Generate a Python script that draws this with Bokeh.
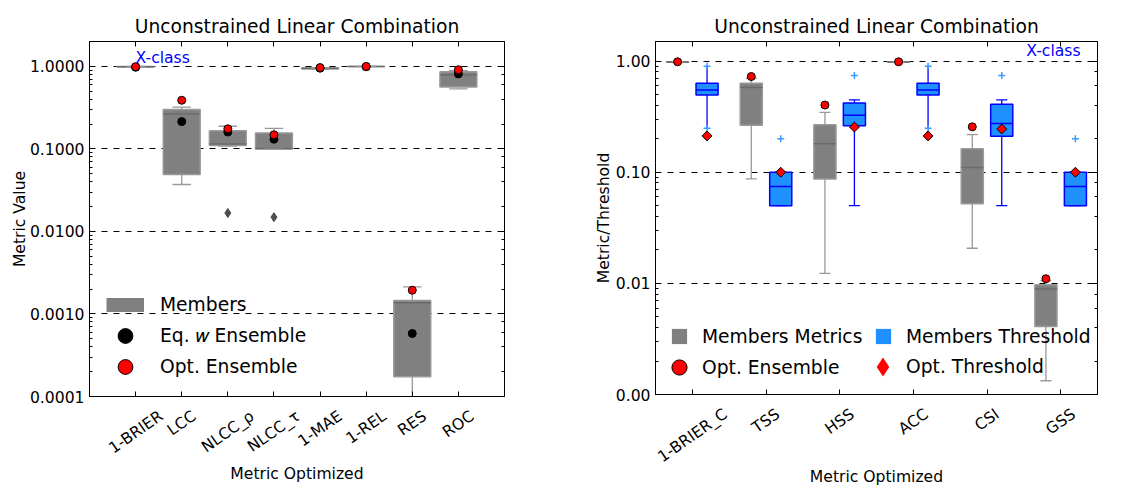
import math
from bokeh.plotting import figure
from bokeh.models import (Range1d, FixedTicker, LogAxis, LinearAxis, Label,
                          Legend, LegendItem, PrintfTickFormatter, CustomJSTickFormatter)
from bokeh.layouts import row
from bokeh.embed import file_html
from bokeh.resources import INLINE

FONT = "DejaVu Sans"
FS_PX = 15.6
FS = "15.6px"
FS_BIG = "18.7px"

# ---------------- data: left panel (Metric Value) ----------------
left_categories = ["1-BRIER", "LCC", "NLCC_ρ", "NLCC_τ", "1-MAE", "1-REL", "RES", "ROC"]
left_whisker_low = [0.975, 0.037, 0.108, 0.099, 0.92, 0.99, 0.00005, 0.533]
left_q1 = [0.985, 0.049, 0.110, 0.100, 0.93, 0.993, 0.000173, 0.563]
left_median = [0.990, 0.265, 0.115, 0.101, 0.945, 0.996, 0.00137, 0.79]
left_q3 = [0.995, 0.300, 0.166, 0.156, 0.955, 0.998, 0.00146, 0.863]
left_whisker_high = [0.998, 0.320, 0.188, 0.177, 0.96, 0.999, 0.00213, 0.887]
left_fliers = [[], [], [0.0167], [0.0149], [], [], [], []]
left_eq_w_ensemble = [0.975, 0.214, 0.160, 0.131, 0.95, 0.99, 0.00058, 0.81]
left_opt_ensemble = [0.99, 0.388, 0.175, 0.148, 0.965, 0.997, 0.00194, 0.91]

# ---------------- data: right panel (Metric/Threshold) ----------------
right_categories = ["1-BRIER_C", "TSS", "HSS", "ACC", "CSI", "GSS"]
metric_whisker_low = [0.970, 0.087, 0.0123, 0.970, 0.0207, 0.00133]
metric_q1 = [0.975, 0.264, 0.087, 0.975, 0.052, 0.0041]
metric_median = [0.980, 0.577, 0.180, 0.980, 0.110, 0.0089]
metric_q3 = [0.985, 0.632, 0.267, 0.985, 0.163, 0.0097]
metric_whisker_high = [0.990, 0.700, 0.345, 0.990, 0.218, 0.0106]
metric_opt_ensemble = [0.985, 0.726, 0.402, 0.985, 0.256, 0.011]

threshold_whisker_low = [0.248, 0.05, 0.05, 0.248, 0.05, 0.05]
threshold_q1 = [0.495, 0.05, 0.262, 0.495, 0.211, 0.05]
threshold_median = [0.55, 0.0745, 0.325, 0.55, 0.275, 0.0745]
threshold_q3 = [0.632, 0.10, 0.42, 0.632, 0.408, 0.10]
threshold_whisker_high = [0.90, 0.10, 0.447, 0.90, 0.447, 0.10]
threshold_fliers = [[0.90, 0.248], [0.2], [0.74], [0.90, 0.248], [0.74], [0.2]]
opt_threshold = [0.212, 0.10, 0.255, 0.212, 0.245, 0.10]

# approximate DejaVu Sans advance widths (em), used to centre rotated labels on ticks
CHAR_W = {'0': .636, '1': .636, '2': .636, '3': .636, '4': .636, '5': .636,
          '6': .636, '7': .636, '8': .636, '9': .636, '-': .361, '_': .5,
          'A': .684, 'B': .686, 'C': .698, 'E': .632, 'G': .775, 'H': .752,
          'I': .295, 'L': .557, 'M': .863, 'N': .748, 'O': .787, 'R': .695,
          'S': .635, 'T': .611, 'ρ': .635, 'τ': .56}
ANGLE = math.radians(35)


def text_w(s, px):
    return sum(CHAR_W.get(c, .62) for c in s) * px


def hide_labels(ax):
    ax.major_label_text_font_size = "1px"
    ax.major_label_text_color = None
    ax.major_label_standoff = 0


def style_fig(p, xs, labels, px_per_unit, ytick_fmt, y_label, y_label_standoff,
              x_label_standoff, title_standoff):
    p.title.text = "Unconstrained Linear Combination"
    p.title.align = "center"
    p.title.text_font = FONT
    p.title.text_font_size = FS_BIG
    p.title.text_font_style = "normal"
    p.title.text_color = "black"
    p.title.standoff = title_standoff
    p.outline_line_color = "black"
    p.outline_line_width = 1
    p.xgrid.visible = False
    p.ygrid.grid_line_color = "black"
    p.ygrid.grid_line_dash = "6 6"
    p.ygrid.grid_line_width = 1
    p.background_fill_color = "white"
    p.border_fill_color = "white"

    # bottom axis: inward tick marks only
    xa = p.xaxis[0]
    xa.ticker = FixedTicker(ticks=xs)
    hide_labels(xa)
    xa.major_tick_in = 5
    xa.major_tick_out = 0
    xa.minor_tick_line_color = None
    xa.axis_line_color = "black"

    # second bottom axis: rotated category labels centred on the ticks
    shifted = [x + (text_w(lab, FS_PX) / 2 * math.cos(ANGLE)) / px_per_unit
               for x, lab in zip(xs, labels)]
    lab_axis = LinearAxis(ticker=FixedTicker(ticks=shifted),
                          formatter=CustomJSTickFormatter(args=dict(labels=labels),
                                                          code="return labels[index]"),
                          major_label_orientation=ANGLE, major_label_standoff=12,
                          major_label_text_font=FONT, major_label_text_font_size=FS,
                          major_label_text_color="black",
                          major_tick_line_color=None, minor_tick_line_color=None,
                          axis_line_color=None,
                          axis_label="Metric Optimized", axis_label_text_font=FONT,
                          axis_label_text_font_size=FS, axis_label_text_font_style="normal",
                          axis_label_text_color="black",
                          axis_label_standoff=x_label_standoff)
    p.add_layout(lab_axis, "below")

    ya = p.yaxis[0]
    ya.formatter = PrintfTickFormatter(format=ytick_fmt)
    ya.major_label_text_font = FONT
    ya.major_label_text_font_size = FS
    ya.major_label_text_color = "black"
    ya.major_tick_in = 5
    ya.major_tick_out = 0
    ya.minor_tick_in = 3
    ya.minor_tick_out = 0
    ya.axis_line_color = "black"
    ya.axis_label = y_label
    ya.axis_label_text_font = FONT
    ya.axis_label_text_font_size = FS
    ya.axis_label_text_font_style = "normal"
    ya.axis_label_text_color = "black"
    ya.axis_label_standoff = y_label_standoff

    top = LinearAxis(ticker=FixedTicker(ticks=xs), major_tick_in=5, major_tick_out=0,
                     minor_tick_line_color=None, axis_line_color="black")
    hide_labels(top)
    p.add_layout(top, "above")
    right = LogAxis(major_tick_in=5, major_tick_out=0, minor_tick_in=3, minor_tick_out=0,
                    axis_line_color="black")
    hide_labels(right)
    p.add_layout(right, "right")


def draw_boxes(p, xs, wl, q1, med, q3, wh, fliers, width, fill, edge, med_color,
               whisk_color, cap_half, flier_marker, flier_color, flier_size,
               edge_width=1.5, skip_caps_at_fliers=False):
    p.vbar(x=xs, width=width, bottom=q1, top=q3, fill_color=fill,
           line_color=edge, line_width=edge_width)
    p.segment(x0=[x - width / 2 for x in xs], x1=[x + width / 2 for x in xs],
              y0=med, y1=med, line_color=med_color, line_width=1.5)
    p.segment(x0=xs, x1=xs, y0=q3, y1=wh, line_color=whisk_color, line_width=1.3)
    p.segment(x0=xs, x1=xs, y0=q1, y1=wl, line_color=whisk_color, line_width=1.3)
    cx0, cx1, cy = [], [], []
    for x, lo, hi, fl in zip(xs, wl, wh, fliers):
        for v in (lo, hi):
            if skip_caps_at_fliers and v in fl:
                continue
            cx0.append(x - cap_half)
            cx1.append(x + cap_half)
            cy.append(v)
    p.segment(x0=cx0, x1=cx1, y0=cy, y1=cy, line_color=whisk_color, line_width=1.3)
    fx, fy = [], []
    for x, fl in zip(xs, fliers):
        for v in fl:
            fx.append(x)
            fy.append(v)
    if flier_marker == "cross":
        p.scatter(fx, fy, marker="cross", size=flier_size, line_color=flier_color,
                  line_width=1.5)
    else:
        p.scatter(fx, fy, marker=flier_marker, size=flier_size, fill_color=flier_color,
                  line_color=flier_color)


def legend_at(p, items, loc, glyph_w, glyph_h, standoff, label_w=20, spacing=0):
    leg = Legend(items=items, location=loc, orientation="horizontal",
                 glyph_width=glyph_w, glyph_height=glyph_h, spacing=spacing,
                 label_standoff=standoff, label_width=label_w, padding=0, margin=0,
                 label_text_font=FONT, label_text_font_size=FS_BIG,
                 label_text_color="black",
                 background_fill_alpha=0, border_line_alpha=0)
    p.add_layout(leg)


GRAY = "#808080"
GRAY_EDGE = "#999999"
GRAY_MED = "#6b6b6b"
BLUE_FILL = "#1e90ff"
BLUE = "#0000ff"

# ======================= left figure =======================
left_x = list(range(1, len(left_categories) + 1))
p1 = figure(frame_width=415, frame_height=355, min_border_left=89, min_border_right=72,
            min_border_top=41, min_border_bottom=84,
            x_range=Range1d(0, 9), y_range=Range1d(1e-4, 2.0), y_axis_type="log",
            output_backend="svg", toolbar_location=None)
style_fig(p1, left_x, left_categories, 415 / 9, "%.4f", "Metric Value", -2, -3, 9)

# zero-length thick segments: invisible in the plot, give the legend its "Members" swatch
r_mem = p1.segment(x0=left_x, x1=left_x, y0=left_median, y1=left_median,
                   line_color=GRAY, line_width=14, line_cap="butt")
draw_boxes(p1, left_x, left_whisker_low, left_q1, left_median, left_q3, left_whisker_high,
           left_fliers, 0.8, GRAY, GRAY_EDGE, GRAY_MED, GRAY_EDGE, 0.2,
           "diamond", "#4d4d4d", 9)
r_eq = p1.scatter(left_x, left_eq_w_ensemble, marker="circle", size=8,
                  fill_color="black", line_color="black")
r_opt = p1.scatter(left_x, left_opt_ensemble, marker="circle", size=8,
                   fill_color="red", line_color="black", line_width=1)

legend_at(p1, [LegendItem(label="Members", renderers=[r_mem])], (17, 73), 38, 37, 16)
legend_at(p1, [LegendItem(label="Eq. 𝑤 Ensemble", renderers=[r_eq])], (17, 42), 38, 37, 16)
legend_at(p1, [LegendItem(label="Opt. Ensemble", renderers=[r_opt])], (17, 11), 38, 37, 16)

p1.add_layout(Label(x=1, y=1.27, text="X-class", text_align="left",
                    text_baseline="middle", text_font=FONT, text_font_size=FS,
                    text_color="blue"))

# ======================= right figure =======================
right_x = list(range(1, len(right_categories) + 1))
p2 = figure(frame_width=442, frame_height=353, min_border_left=79, min_border_right=35,
            min_border_top=41, min_border_bottom=40,
            x_range=Range1d(0.5, 6.5), y_range=Range1d(1e-3, 1.5), y_axis_type="log",
            output_backend="svg", toolbar_location=None)
style_fig(p2, right_x, right_categories, 442 / 6, "%.2f", "Metric/Threshold", 0, -8, 9)

mx = [x - 0.2 for x in right_x]
tx = [x + 0.2 for x in right_x]
# zero-size markers: invisible in the plot, give the legend its square / diamond swatches
r_mm = p2.scatter(mx, metric_median, marker="square", size=0, fill_color=GRAY,
                  line_color=None)
r_mt = p2.scatter(tx, threshold_median, marker="square", size=0, fill_color=BLUE_FILL,
                  line_color=None)
r_thr_leg = p2.scatter(tx, opt_threshold, marker="diamond", size=0, fill_color="red",
                       line_color=None)
draw_boxes(p2, mx, metric_whisker_low, metric_q1, metric_median, metric_q3,
           metric_whisker_high, [[] for _ in right_x], 0.3, GRAY, GRAY_EDGE, GRAY_MED,
           GRAY_EDGE, 0.075, "diamond", "#4d4d4d", 9)
draw_boxes(p2, tx, threshold_whisker_low, threshold_q1, threshold_median, threshold_q3,
           threshold_whisker_high, threshold_fliers, 0.3, BLUE_FILL, BLUE, BLUE, BLUE,
           0.075, "cross", "#3d9bff", 7, edge_width=1.5, skip_caps_at_fliers=True)
r_ropt = p2.scatter(mx, metric_opt_ensemble, marker="circle", size=8,
                    fill_color="red", line_color="black", line_width=1)
p2.scatter(tx, opt_threshold, marker="square", angle=math.pi / 4, size=7,
           fill_color="red", line_color="black", line_width=1)

legend_at(p2, [LegendItem(label="Members Metrics", renderers=[r_mm]),
               LegendItem(label="Members Threshold", renderers=[r_mt])],
          (5, 39), 38, 38, 4, label_w=162)
legend_at(p2, [LegendItem(label="Opt. Ensemble", renderers=[r_ropt])],
          (5, 8), 38, 38, 4, label_w=162)
legend_at(p2, [LegendItem(label="Opt. Threshold", renderers=[r_thr_leg])],
          (204, 4), 47, 47, 0)

p2.add_layout(Label(x=6.27, y=1.23, text="X-class", text_align="right",
                    text_baseline="middle", text_font=FONT, text_font_size=FS,
                    text_color="blue"))

layout = row(p1, p2)
open("out.html", "w").write(file_html(layout, INLINE))
